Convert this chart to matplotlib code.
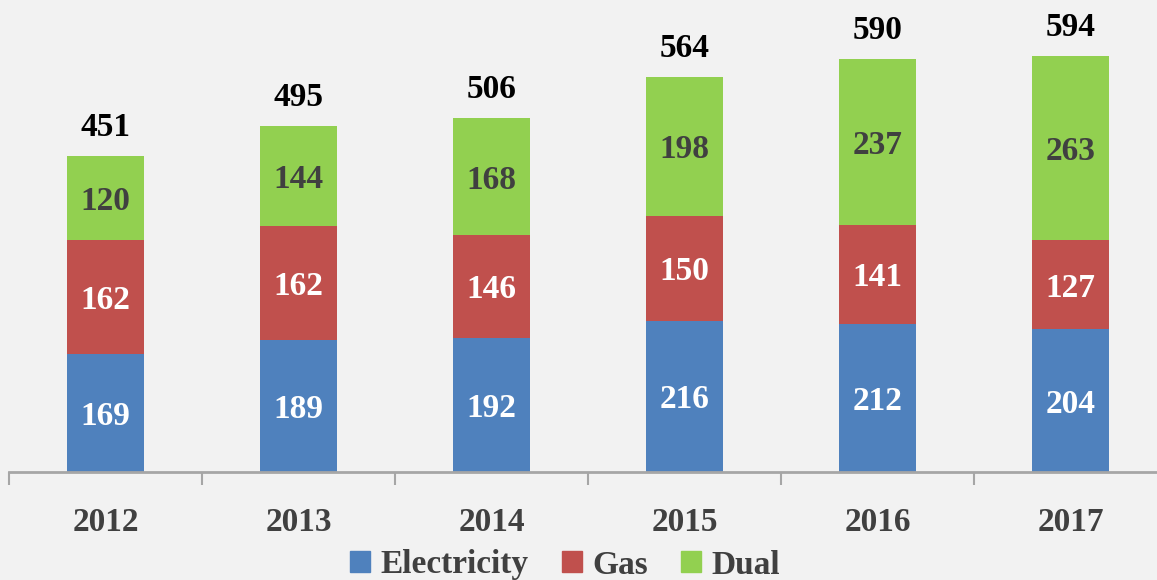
import matplotlib
matplotlib.use("Agg")
import matplotlib.pyplot as plt
import matplotlib.patches as mpatches
import numpy as np

years = ["2012", "2013", "2014", "2015", "2016", "2017"]
electricity = [169, 189, 192, 216, 212, 204]
gas = [162, 162, 146, 150, 141, 127]
dual = [120, 144, 168, 198, 237, 263]
totals = [451, 495, 506, 564, 590, 594]

blue = "#4F81BD"
red = "#C0504D"
green = "#92D050"
bg = "#F2F2F2"
dark = "#404040"

plt.rcParams["font.family"] = ["Liberation Serif", "DejaVu Serif"]
plt.rcParams["font.weight"] = "bold"
fs = 24

fig = plt.figure(figsize=(11.57, 5.8), dpi=100, facecolor=bg)
# axes spill slightly past the right edge like the original
ax = fig.add_axes([9 / 1157, 108 / 580, 1158 / 1157, 455 / 580])
ax.set_facecolor(bg)

x = np.arange(len(years))
w = 0.4
e = np.array(electricity)
g = np.array(gas)
d = np.array(dual)

ax.bar(x, e, w, color=blue)
ax.bar(x, g, w, bottom=e, color=red)
ax.bar(x, d, w, bottom=e + g, color=green)

for i in range(len(years)):
    ax.text(x[i], e[i] / 2, str(e[i]), ha="center", va="center_baseline",
            color="white", fontsize=fs, fontweight="bold")
    ax.text(x[i], e[i] + g[i] / 2, str(g[i]), ha="center", va="center_baseline",
            color="white", fontsize=fs, fontweight="bold")
    ax.text(x[i], e[i] + g[i] + d[i] / 2, str(d[i]), ha="center", va="center_baseline",
            color=dark, fontsize=fs, fontweight="bold")
    ax.annotate(str(totals[i]), (x[i], totals[i]), xytext=(0, 23),
                textcoords="offset points", ha="center", va="center_baseline",
                color="black", fontsize=fs, fontweight="bold", annotation_clip=False)

ax.set_xlim(-0.5, len(years) - 0.5)
ax.set_ylim(0, 650)

for s in ["top", "right", "left"]:
    ax.spines[s].set_visible(False)
ax.spines["bottom"].set_color("#A6A6A6")
ax.spines["bottom"].set_linewidth(2)

ax.set_yticks([])
ax.set_xticks(np.arange(-0.5, len(years)))
ax.set_xticklabels([])
ax.tick_params(axis="x", which="major", length=9, width=1.5, color="#A6A6A6", direction="out")
ax.set_xticks(x, minor=True)
ax.set_xticklabels(years, minor=True)
ax.tick_params(axis="x", which="minor", length=0, pad=25, labelsize=fs, labelcolor=dark)

handles = [mpatches.Patch(color=blue, label="Electricity"),
           mpatches.Patch(color=red, label="Gas"),
           mpatches.Patch(color=green, label="Dual")]
leg = fig.legend(handles=handles, loc="center", bbox_to_anchor=(565 / 1157, 15 / 580),
                 ncol=3, frameon=False, fontsize=fs, handlelength=0.6, handleheight=0.6,
                 handletextpad=0.3, columnspacing=1.0, borderaxespad=0)
for t in leg.get_texts():
    t.set_color(dark)

fig.savefig("out.png", dpi=100, facecolor=bg)
